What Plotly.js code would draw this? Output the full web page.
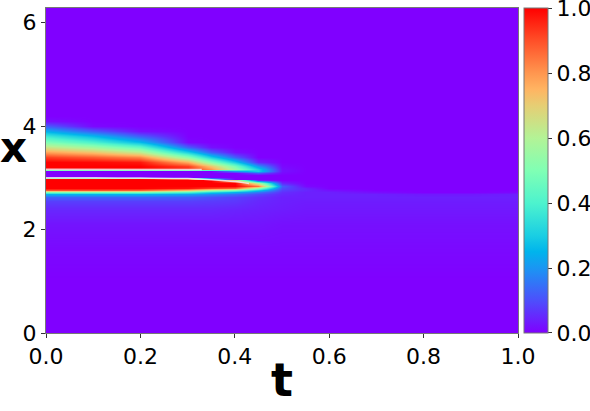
<!DOCTYPE html>
<html>
<head>
<meta charset="utf-8">
<script src="https://cdn.plot.ly/plotly-3.0.1.min.js"></script>
<style>html,body{margin:0;padding:0;background:#fff;}#chart{width:590px;height:411px;}</style>
</head>
<body>
<div id="chart"></div>
<script>
// time samples (columns)
const tGrid = [0, 0.1, 0.2, 0.3, 0.35, 0.4, 0.45, 0.5, 0.55, 0.6, 0.7, 0.8, 0.9, 1.0];
// space samples (rows)
const xGrid = [0, 1.0, 1.6, 2.1, 2.4, 2.55, 2.62, 2.68, 2.72, 2.76, 2.8, 2.85, 2.9, 2.95, 2.98,
               3.02, 3.06, 3.1, 3.14, 3.18, 3.22, 3.3, 3.4, 3.5, 3.6, 3.7, 3.8, 3.9, 4.0, 4.1, 4.2, 6.2832];
// field values u(x, t), one row per xGrid entry
const u_x0_00 = [0,0,0,0,0,0,0,0,0,0,0,0,0,0];
const u_x1_00 = [0,0,0,0,0,0,0,0,0,0,0,0,0,0];
const u_x1_60 = [0.01,0.01,0.01,0.01,0.01,0.01,0.01,0.01,0.01,0.01,0.01,0.01,0.01,0.01];
const u_x2_10 = [0.025,0.025,0.025,0.025,0.025,0.025,0.025,0.02,0.02,0.02,0.02,0.02,0.02,0.02];
const u_x2_40 = [0.05,0.05,0.05,0.05,0.05,0.045,0.04,0.035,0.03,0.03,0.03,0.03,0.03,0.03];
const u_x2_55 = [0.08,0.08,0.08,0.08,0.075,0.07,0.05,0.04,0.035,0.035,0.035,0.035,0.035,0.035];
const u_x2_62 = [0.13,0.13,0.13,0.12,0.1,0.08,0.06,0.04,0.04,0.04,0.04,0.04,0.04,0.04];
const u_x2_68 = [0.25,0.25,0.25,0.22,0.18,0.14,0.09,0.05,0.04,0.04,0.04,0.03,0.03,0.04];
const u_x2_72 = [0.5,0.5,0.5,0.42,0.32,0.25,0.16,0.06,0.04,0.04,0.015,0,0,0.01];
const u_x2_76 = [0.9,0.9,0.88,0.75,0.6,0.5,0.3,0.08,0.05,0.02,0,0,0,0];
const u_x2_80 = [1,1,1,0.98,0.92,0.88,0.55,0.1,0.04,0,0,0,0,0];
const u_x2_85 = [1,1,1,1,1,1,0.85,0.12,0.01,0,0,0,0,0];
const u_x2_90 = [1,1,1,1,1,1,0.6,0.05,0,0,0,0,0,0];
const u_x2_95 = [1,1,1,1,1,0.7,0.05,0,0,0,0,0,0,0];
const u_x2_98 = [1,1,1,0.9,0.3,0,0,0,0,0,0,0,0,0];
const u_x3_02 = [0,0,0,0,0,0,0,0,0,0,0,0,0,0];
const u_x3_06 = [0,0,0,0,0,0,0,0,0,0,0,0,0,0];
const u_x3_10 = [0,0,0,0,0,0,0.1,0.01,0,0,0,0,0,0];
const u_x3_14 = [0,0,0,0,0,0.2,0.3,0.02,0,0,0,0,0,0];
const u_x3_18 = [1,1,1,0.95,0.8,0.55,0.3,0.02,0,0,0,0,0,0];
const u_x3_22 = [1,1,1,0.92,0.72,0.48,0.2,0.01,0,0,0,0,0,0];
const u_x3_30 = [1,0.99,0.97,0.76,0.52,0.3,0.05,0,0,0,0,0,0,0];
const u_x3_40 = [0.92,0.88,0.82,0.52,0.3,0.12,0,0,0,0,0,0,0,0];
const u_x3_50 = [0.78,0.72,0.62,0.3,0.12,0.02,0,0,0,0,0,0,0,0];
const u_x3_60 = [0.64,0.56,0.44,0.12,0.02,0,0,0,0,0,0,0,0,0];
const u_x3_70 = [0.5,0.4,0.26,0.01,0,0,0,0,0,0,0,0,0,0];
const u_x3_80 = [0.37,0.26,0.12,0,0,0,0,0,0,0,0,0,0,0];
const u_x3_90 = [0.24,0.12,0.02,0,0,0,0,0,0,0,0,0,0,0];
const u_x4_00 = [0.12,0.01,0,0,0,0,0,0,0,0,0,0,0,0];
const u_x4_10 = [0.02,0,0,0,0,0,0,0,0,0,0,0,0,0];
const u_x4_20 = [0,0,0,0,0,0,0,0,0,0,0,0,0,0];
const u_x6_28 = [0,0,0,0,0,0,0,0,0,0,0,0,0,0];
const uRows = [u_x0_00,u_x1_00,u_x1_60,u_x2_10,u_x2_40,u_x2_55,u_x2_62,u_x2_68,u_x2_72,u_x2_76,
  u_x2_80,u_x2_85,u_x2_90,u_x2_95,u_x2_98,u_x3_02,u_x3_06,u_x3_10,u_x3_14,u_x3_18,u_x3_22,
  u_x3_30,u_x3_40,u_x3_50,u_x3_60,u_x3_70,u_x3_80,u_x3_90,u_x4_00,u_x4_10,u_x4_20,u_x6_28];

// thin light separators seen between the bands
const sepUpperT = [0, 0.1, 0.2, 0.3, 0.33];
const sepUpperX = [3.165, 3.165, 3.165, 3.16, 3.16];
const sepLowerT = [0, 0.1, 0.2, 0.3, 0.35, 0.4, 0.43];
const sepLowerX = [3.0, 3.0, 2.995, 2.985, 2.965, 2.93, 2.89];

const xTicks = [0, 0.2, 0.4, 0.6, 0.8, 1.0];
const yTicks = [0, 2, 4, 6];
const cbTickVals = [0.0001, 0.2, 0.4, 0.6, 0.8, 0.9999];
const cbTickText = ['0.0', '0.2', '0.4', '0.6', '0.8', '1.0'];

const rainbow = [
  [0.0, 'rgb(128,0,255)'], [0.1, 'rgb(77,79,252)'], [0.2, 'rgb(26,150,243)'],
  [0.25, 'rgb(0,180,236)'], [0.3, 'rgb(26,206,227)'], [0.4, 'rgb(77,243,206)'],
  [0.5, 'rgb(128,255,180)'], [0.6, 'rgb(179,243,150)'], [0.7, 'rgb(230,206,116)'],
  [0.75, 'rgb(255,180,98)'], [0.8, 'rgb(255,150,79)'], [0.9, 'rgb(255,79,40)'],
  [1.0, 'rgb(255,0,0)']
];

const F = 'DejaVu Sans, sans-serif';

const traces = [
  {
    type: 'heatmap', x: tGrid, y: xGrid, z: uRows, zmin: 0, zmax: 1,
    zsmooth: 'best', colorscale: rainbow, hoverinfo: 'skip',
    colorbar: {
      x: 1.0127, xanchor: 'left', y: 0.5, yanchor: 'middle',
      len: 1, lenmode: 'fraction', thickness: 24, thicknessmode: 'pixels',
      xpad: 0, ypad: 0, outlinewidth: 1, outlinecolor: '#777',
      tickvals: cbTickVals, ticktext: cbTickText, ticks: 'outside', ticklen: 4,
      ticklabeloverflow: 'allow',
      tickcolor: '#333', tickfont: {family: F, size: 22, color: '#000'}
    }
  },
  {type: 'scatter', mode: 'lines', x: sepUpperT, y: sepUpperX, hoverinfo: 'skip',
   line: {color: 'rgba(240,232,240,0.85)', width: 1.5}, showlegend: false},
  {type: 'scatter', mode: 'lines', x: sepLowerT, y: sepLowerX, hoverinfo: 'skip',
   line: {color: 'rgba(240,232,240,0.85)', width: 1.5, shape: 'spline'}, showlegend: false}
];

const layout = {
  width: 590, height: 411,
  margin: {l: 46, r: 72, t: 8, b: 78, pad: 0, autoexpand: false},
  paper_bgcolor: '#fff', plot_bgcolor: '#fff',
  showlegend: false,
  xaxis: {
    range: [0, 1], tickvals: xTicks, tickformat: '.1f', ticks: 'outside', ticklen: 4,
    tickcolor: '#333', showgrid: false, zeroline: false, showline: true, mirror: true,
    linecolor: '#777', linewidth: 1, tickfont: {family: F, size: 22, color: '#000'},
    automargin: false
  },
  yaxis: {
    range: [0, 6.2832], tickvals: yTicks, ticks: 'outside', ticklen: 4,
    tickcolor: '#333', showgrid: false, zeroline: false, showline: true, mirror: true,
    linecolor: '#777', linewidth: 1, tickfont: {family: F, size: 22, color: '#000'},
    automargin: false
  },
  annotations: [
    {text: '<b>t</b>', xref: 'paper', yref: 'paper', x: 0.5, y: -0.145,
     xanchor: 'center', yanchor: 'middle', showarrow: false, borderpad: 0,
     font: {family: F, size: 46, color: '#000'}},
    {text: '<b>x</b>', xref: 'paper', yref: 'paper', x: -0.068, y: 0.572,
     xanchor: 'center', yanchor: 'middle', showarrow: false, borderpad: 0,
     font: {family: F, size: 42, color: '#000'}}
  ]
};

Plotly.newPlot('chart', traces, layout, {displayModeBar: false, staticPlot: true});
</script>
</body>
</html>
